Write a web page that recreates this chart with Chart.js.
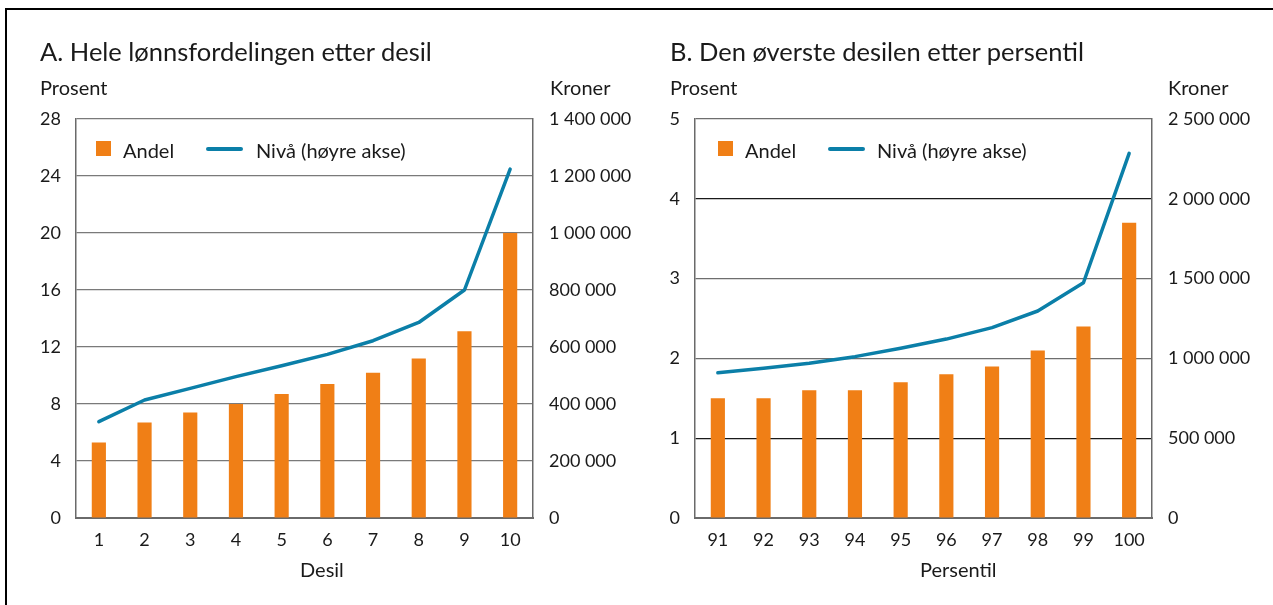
<!DOCTYPE html>
<html>
<head>
<meta charset="utf-8">
<script src="https://cdn.jsdelivr.net/npm/chart.js@4.4.1/dist/chart.umd.min.js"></script>
<style>
  html, body { margin: 0; padding: 0; background: #fff; }
  #wrap { position: relative; width: 1273px; height: 605px; overflow: hidden; font-family: Lato, "Noto Sans", sans-serif; color: #1a1a1a; }
  canvas { position: absolute; top: 0; }
  .t { position: absolute; white-space: nowrap; line-height: 1; }
  .title { font-size: 25.5px; }
  .unit { font-size: 20px; }
  .leg { font-size: 20px; }
  .sq { position: absolute; width: 15px; height: 15px; background: #f07f16; }
  .ln { position: absolute; height: 4px; border-radius: 2px; background: #0b7fa8; }
  #frameTop { position: absolute; left: 5px; top: 8px; width: 1268px; height: 2px; background: #000; }
  #frameLeft { position: absolute; left: 5px; top: 8px; width: 2px; height: 597px; background: #000; }
</style>
</head>
<body>
<div id="wrap">
  <div id="frameTop"></div>
  <div id="frameLeft"></div>
  <canvas id="cA" width="640" height="605" style="left:0px"></canvas>
  <canvas id="cB" width="633" height="605" style="left:640px"></canvas>

  <div class="t title" style="left:40px; top:39px">A. Hele lønnsfordelingen etter desil</div>
  <div class="t unit" style="left:40px; top:77px">Prosent</div>
  <div class="t unit" style="left:550px; top:77px">Kroner</div>
  <div class="sq" style="left:96px; top:141px"></div>
  <div class="t leg" style="left:123px; top:140px">Andel</div>
  <div class="ln" style="left:206px; top:147px; width:37px"></div>
  <div class="t leg" style="left:256px; top:140px">Nivå (høyre akse)</div>
  <div class="t unit" style="left:300px; top:559px">Desil</div>

  <div class="t title" style="left:670px; top:39px">B. Den øverste desilen etter persentil</div>
  <div class="t unit" style="left:670px; top:77px">Prosent</div>
  <div class="t unit" style="left:1168px; top:77px">Kroner</div>
  <div class="sq" style="left:718px; top:141px"></div>
  <div class="t leg" style="left:745px; top:140px">Andel</div>
  <div class="ln" style="left:828px; top:147px; width:37px"></div>
  <div class="t leg" style="left:877px; top:140px">Nivå (høyre akse)</div>
  <div class="t unit" style="left:920px; top:559px">Persentil</div>
</div>
<script>
// ---- Data ----
const catsA = ['1','2','3','4','5','6','7','8','9','10'];
const andelA = [5.3, 6.7, 7.4, 8.0, 8.7, 9.4, 10.2, 11.2, 13.1, 20.0];
const nivaA = [338000, 414000, 455000, 496000, 534000, 574000, 622000, 686000, 800000, 1224000];

const catsB = ['91','92','93','94','95','96','97','98','99','100'];
const andelB = [1.5, 1.5, 1.6, 1.6, 1.7, 1.8, 1.9, 2.1, 2.4, 3.7];
const nivaB = [910000, 938000, 969000, 1011000, 1063000, 1121000, 1193000, 1297000, 1474000, 2285000];

const axisA = { pctMax: 28, pctStep: 4, krMax: 1400000, krStep: 200000 };
const axisB = { pctMax: 5, pctStep: 1, krMax: 2500000, krStep: 500000 };

const ORANGE = '#f07f16';
const BLUE = '#0b7fa8';
const TICKFONT = { family: 'Lato, "Noto Sans", sans-serif', size: 18 };

function fmt(v) { return String(v).replace(/\B(?=(\d{3})+(?!\d))/g, ' '); }

function makeChart(id, cats, andel, niva, ax, dims, gridColor) {
  return new Chart(document.getElementById(id), {
    data: {
      labels: cats,
      datasets: [
        { type: 'line', label: 'Nivå (høyre akse)', data: niva, yAxisID: 'y1',
          borderColor: BLUE, borderWidth: 3.5, pointRadius: 0, tension: 0, order: 0,
          borderCapStyle: 'round', borderJoinStyle: 'round' },
        { type: 'bar', label: 'Andel', data: andel, yAxisID: 'y',
          backgroundColor: ORANGE, borderWidth: 0, order: 1,
          barPercentage: dims.barPct, categoryPercentage: 1.0 }
      ]
    },
    options: {
      responsive: false,
      animation: false,
      devicePixelRatio: 1,
      layout: { autoPadding: false, padding: { top: 119, left: 0, right: 0, bottom: 0 } },
      plugins: { legend: { display: false }, tooltip: { enabled: false } },
      scales: {
        x: {
          grid: { display: false, drawTicks: false },
          border: { display: true, color: '#6a6a6a', width: 2 },
          ticks: { font: TICKFONT, color: '#1a1a1a', padding: 11, maxRotation: 0, autoSkip: false },
          afterFit: s => { s.height = 87; }
        },
        y: {
          position: 'left', min: 0, max: ax.pctMax,
          ticks: { stepSize: ax.pctStep, font: TICKFONT, color: '#1a1a1a', padding: 15 },
          grid: { drawTicks: false, color: gridColor, lineWidth: 1.2 },
          border: { display: true, color: '#6a6a6a', width: 1.5 },
          afterFit: s => { s.width = dims.leftW; }
        },
        y1: {
          position: 'right', min: 0, max: ax.krMax,
          ticks: { stepSize: ax.krStep, font: TICKFONT, color: '#1a1a1a', padding: 16, callback: v => fmt(v) },
          grid: { display: false, drawTicks: false },
          border: { display: true, color: '#6a6a6a', width: 1.5 },
          afterFit: s => { s.width = dims.rightW; }
        }
      }
    }
  });
}

makeChart('cA', catsA, andelA, nivaA, axisA, { leftW: 76, rightW: 107, barPct: 0.31 }, '#7a7a7a');
makeChart('cB', catsB, andelB, nivaB, axisB, { leftW: 55, rightW: 121, barPct: 0.31 },
  ctx => (ctx.tick && (ctx.tick.value === 1 || ctx.tick.value === 4)) ? '#1a1a1a' : '#6e6e6e');
</script>
</body>
</html>
